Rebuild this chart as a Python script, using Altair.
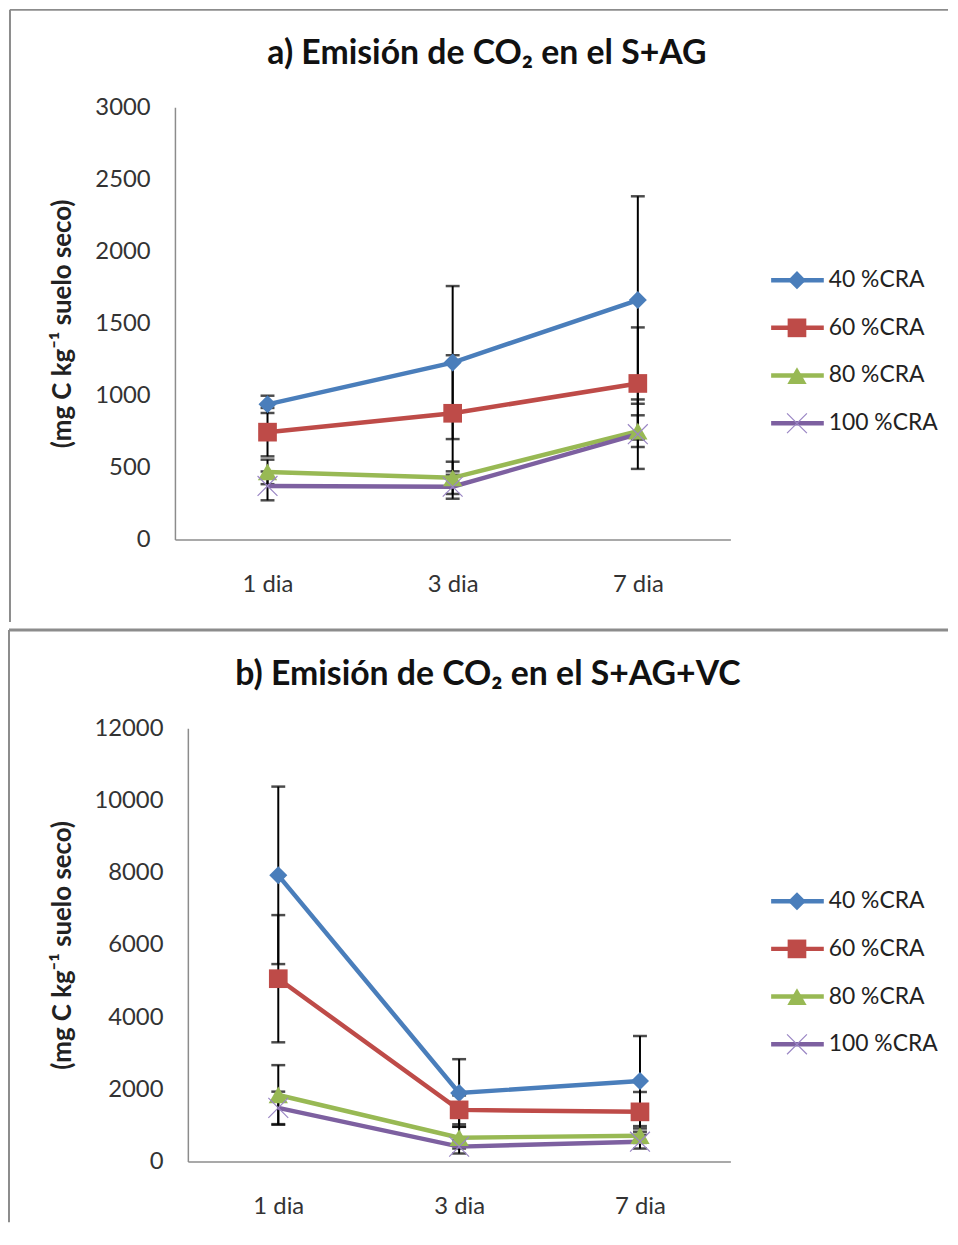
import altair as alt
import pandas as pd

days = ["1 dia", "3 dia", "7 dia"]
series = ["40 %CRA", "60 %CRA", "80 %CRA", "100 %CRA"]
colors = ["#4a7ebb", "#be4b48", "#98b954", "#7d60a0"]

# Panel a) S+AG  (mean values and error half-widths)
a_40 = [938, 1228, 1662]
a_60 = [745, 876, 1083]
a_80 = [469, 428, 752]
a_100 = [372, 366, 731]
a_40_err = [60, 531, 720]
a_60_err = [168, 403, 389]
a_80_err = [85, 112, 110]
a_100_err = [100, 83, 241]

# Panel b) S+AG+VC
b_40 = [7927, 1899, 2229]
b_60 = [5064, 1431, 1376]
b_80 = [1844, 661, 716]
b_100 = [1486, 413, 550]
b_40_err = [2458, 936, 1248]
b_60_err = [1762, 400, 550]
b_80_err = [826, 300, 200]
b_100_err = [450, 190, 190]

y_ticks_a = [0, 500, 1000, 1500, 2000, 2500, 3000]
y_ticks_b = [0, 2000, 4000, 6000, 8000, 10000, 12000]

title_a = "a) Emisión de CO₂ en el S+AG"
title_b = "b) Emisión de CO₂ en el S+AG+VC"
y_title = "(mg C kg⁻¹ suelo seco)"

FONT = "Lato"
FRAME = "#8c8c8c"
W = 559


def build(vals, errs):
    rows = []
    for s, v, e in zip(series, vals, errs):
        for d, vv, ee in zip(days, v, e):
            rows.append({"dia": d, "serie": s, "valor": vv, "lo": vv - ee, "hi": vv + ee})
    return pd.DataFrame(rows)


df_a = build([a_40, a_60, a_80, a_100], [a_40_err, a_60_err, a_80_err, a_100_err])
df_b = build([b_40, b_60, b_80, b_100], [b_40_err, b_60_err, b_80_err, b_100_err])

color_scale = alt.Scale(domain=series, range=colors)
shape_scale = alt.Scale(domain=series, range=["diamond", "square", "triangle-up", "M-1,-1L1,1M-1,1L1,-1"])
size_scale = alt.Scale(domain=series, range=[330, 400, 330, 400])
CROSS = "#9a86c4"


def panel(df, ticks, height, x0, title, title_x, frame_left, frame_top, top_w, left_end):
    x = alt.X("dia:N", sort=days, scale=alt.Scale(type="point", padding=0.5, range=[x0, W]),
              axis=alt.Axis(title=None, labelAngle=0, ticks=False, labelPadding=33,
                            labelFontSize=24, labelColor="#333333", domainColor="#8c8c8c",
                            domainWidth=1.5, labelFont=FONT))
    ydom = alt.Scale(domain=[ticks[0], ticks[-1]], nice=False)
    y = alt.Y("valor:Q", scale=ydom,
              axis=alt.Axis(title=y_title, values=ticks, format="d", grid=False, ticks=False,
                            labelPadding=25, offset=-x0,
                            labelFontSize=24, labelColor="#333333", domainColor="#8c8c8c",
                            domainWidth=1.5, titleFontSize=26, titleFontWeight="bold",
                            titleColor="#222222", titlePadding=19, labelFont=FONT,
                            titleFont=FONT))
    base = alt.Chart(df)
    bars = base.mark_rule(color="black", strokeWidth=2).encode(
        x=x, y=alt.Y("lo:Q", scale=ydom), y2="hi:Q")
    cap_hi = base.mark_tick(color="black", thickness=2.5, size=14).encode(
        x=x, y=alt.Y("hi:Q", scale=ydom))
    cap_lo = base.mark_tick(color="black", thickness=2.5, size=14).encode(
        x=x, y=alt.Y("lo:Q", scale=ydom))
    col = alt.Color("serie:N", scale=color_scale, legend=None)
    shp = alt.Shape("serie:N", scale=shape_scale, legend=None)
    siz = alt.Size("serie:N", scale=size_scale, legend=None)
    line = base.mark_line(strokeWidth=4.5).encode(x=x, y=y, color=col, detail="serie:N")
    pts = base.transform_filter(alt.datum.serie != series[3]).mark_point(
        filled=True, opacity=1).encode(x=x, y=y, color=col, shape=shp, size=siz)
    crosses = base.transform_filter(alt.datum.serie == series[3]).mark_point(
        filled=False, opacity=1, strokeWidth=1.2, color=CROSS).encode(
        x=x, y=y, shape=shp, size=siz)
    plot = alt.layer(bars, cap_hi, cap_lo, line, pts, crosses)

    # legend (own point scale for the series)
    ldf = pd.DataFrame({"serie": series})
    ly = alt.Y("serie:N", sort=series, axis=None,
               scale=alt.Scale(type="point", domain=series, range=[174, 318], padding=0))
    lb = alt.Chart(ldf)
    l_lines = lb.mark_rule(strokeWidth=4.5).encode(x=alt.value(600), x2=alt.value(653), y=ly, color=col)
    l_pts = lb.transform_filter(alt.datum.serie != series[3]).mark_point(filled=True, opacity=1).encode(
        x=alt.value(626), y=ly, color=col, shape=shp, size=siz)
    l_cross = lb.transform_filter(alt.datum.serie == series[3]).mark_point(
        filled=False, opacity=1, strokeWidth=1.2, color=CROSS).encode(
        x=alt.value(626), y=ly, shape=shp, size=siz)
    l_text = lb.mark_text(align="left", baseline="middle", fontSize=23, font=FONT,
                          color="#222222").encode(x=alt.value(658), y=ly, text="serie:N")
    leg = alt.layer(l_lines, l_pts, l_cross, l_text)

    one = alt.Data(values=[{"t": title}])
    ttl = alt.Chart(one).mark_text(fontSize=34, fontWeight="bold", font=FONT, color="#111111",
                                   align="center", baseline="middle").encode(
        x=alt.value(title_x), y=alt.value(-54), text="t:N")
    f_top = alt.Chart(one).mark_rule(color=FRAME, strokeWidth=top_w, strokeJoin="bevel").encode(
        x=alt.value(frame_left), x2=alt.value(778), y=alt.value(frame_top))
    f_left = alt.Chart(one).mark_rule(color=FRAME, strokeWidth=2, strokeJoin="bevel").encode(
        x=alt.value(frame_left), y=alt.value(frame_top), y2=alt.value(left_end))

    return alt.layer(plot, leg, f_top, f_left, ttl).resolve_scale(y="independent").properties(
        width=W, height=height)


pa = panel(df_a, y_ticks_a, 435, 0, title_a, 314, -166, -98, 2, 518)
pb = panel(df_b, y_ticks_b, 436, 13, title_b, 315, -167, -99, 3, 497)

chart = alt.vconcat(pa, pb, spacing=5).properties(
    padding={"left": -1, "top": -3, "right": 0, "bottom": 0}
).configure(font=FONT).configure_view(stroke="transparent", strokeWidth=0)

chart.save("out.html", embed_options={"renderer": "svg", "actions": False})
